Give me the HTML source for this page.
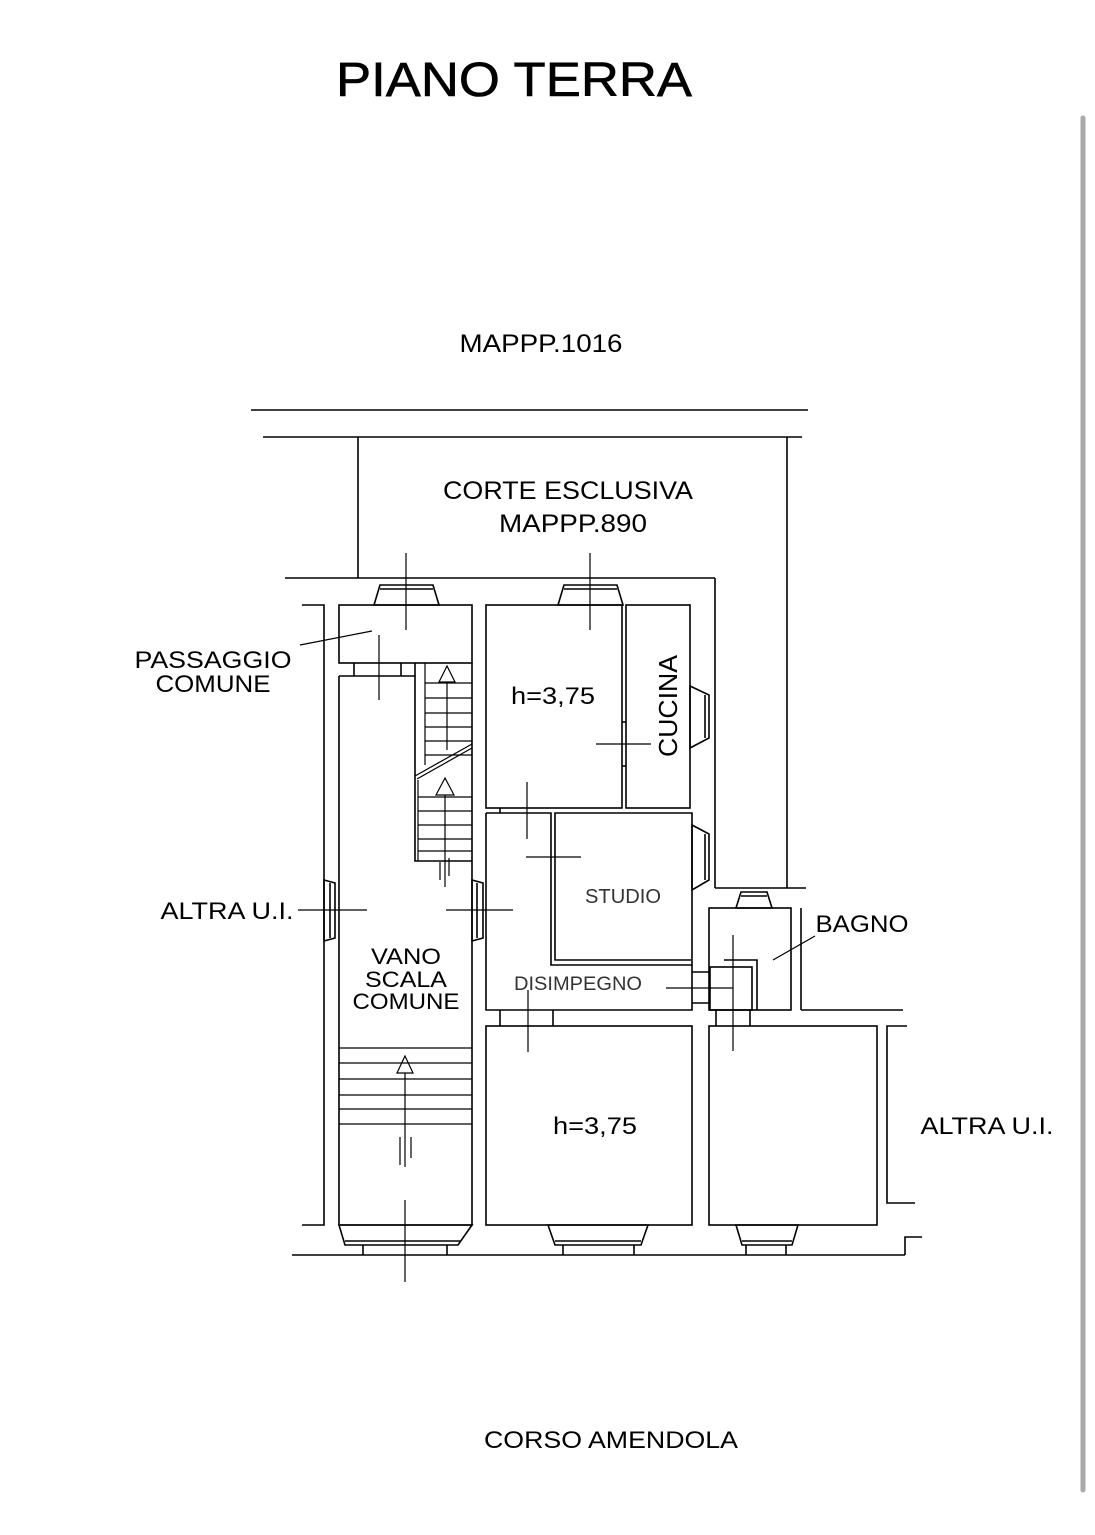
<!DOCTYPE html>
<html><head><meta charset="utf-8"><style>
html,body{margin:0;padding:0;background:#fff;}
svg{display:block;}
text{font-family:"Liberation Sans",sans-serif;fill:#000;}
</style></head><body>
<svg width="1095" height="1535" viewBox="0 0 1095 1535" xmlns="http://www.w3.org/2000/svg">
<rect width="1095" height="1535" fill="#fff"/>
<line x1="1083" y1="118" x2="1083" y2="1490" stroke="#a9a9a9" stroke-width="5" stroke-linecap="round"/>
<text x="514" y="96" font-size="48" text-anchor="middle" textLength="356" lengthAdjust="spacingAndGlyphs" stroke="#000" stroke-width="0.6">PIANO TERRA</text>
<text x="541" y="352" font-size="25" text-anchor="middle" textLength="163" lengthAdjust="spacingAndGlyphs">MAPPP.1016</text>
<text x="568" y="499" font-size="25" text-anchor="middle" textLength="250" lengthAdjust="spacingAndGlyphs">CORTE ESCLUSIVA</text>
<text x="573" y="532" font-size="25" text-anchor="middle" textLength="148" lengthAdjust="spacingAndGlyphs">MAPPP.890</text>
<text x="213" y="668" font-size="24" text-anchor="middle" textLength="157" lengthAdjust="spacingAndGlyphs">PASSAGGIO</text>
<text x="213" y="692" font-size="24" text-anchor="middle" textLength="115" lengthAdjust="spacingAndGlyphs">COMUNE</text>
<text x="227" y="919" font-size="24" text-anchor="middle" textLength="133" lengthAdjust="spacingAndGlyphs">ALTRA U.I.</text>
<text x="406" y="964" font-size="22" text-anchor="middle" textLength="70" lengthAdjust="spacingAndGlyphs">VANO</text>
<text x="406" y="987" font-size="22" text-anchor="middle" textLength="82" lengthAdjust="spacingAndGlyphs">SCALA</text>
<text x="406" y="1009" font-size="22" text-anchor="middle" textLength="107" lengthAdjust="spacingAndGlyphs">COMUNE</text>
<text x="553" y="704" font-size="24" text-anchor="middle" textLength="84" lengthAdjust="spacingAndGlyphs">h=3,75</text>
<text x="595" y="1134" font-size="24" text-anchor="middle" textLength="84" lengthAdjust="spacingAndGlyphs">h=3,75</text>
<text x="623" y="903" font-size="20" text-anchor="middle" style="fill:#333" textLength="76" lengthAdjust="spacingAndGlyphs">STUDIO</text>
<text x="578" y="990" font-size="19" text-anchor="middle" style="fill:#333" textLength="128" lengthAdjust="spacingAndGlyphs">DISIMPEGNO</text>
<text x="862" y="932" font-size="24" text-anchor="middle" textLength="93" lengthAdjust="spacingAndGlyphs">BAGNO</text>
<text x="987" y="1134" font-size="24" text-anchor="middle" textLength="133" lengthAdjust="spacingAndGlyphs">ALTRA U.I.</text>
<text x="611" y="1448" font-size="24" text-anchor="middle" textLength="254" lengthAdjust="spacingAndGlyphs">CORSO AMENDOLA</text>
<text transform="translate(677,706) rotate(-90)" font-size="26" text-anchor="middle" textLength="102" lengthAdjust="spacingAndGlyphs">CUCINA</text>

<g stroke="#000" stroke-width="1.6" fill="none">
<line x1="251" y1="410" x2="808" y2="410"/>
<line x1="263" y1="437" x2="802" y2="437"/>
<line x1="358" y1="437" x2="358" y2="578"/>
<line x1="787" y1="437" x2="787" y2="888"/>
<line x1="285" y1="578" x2="715" y2="578"/>
<line x1="715" y1="578" x2="715" y2="888"/>
<line x1="715" y1="888" x2="806" y2="888"/>
<polyline points="302,605 324,605 324,1225 302,1225"/>
<rect x="339" y="605" width="133" height="58"/>
<line x1="354" y1="663" x2="354" y2="676"/><line x1="401" y1="663" x2="401" y2="676"/>
<polyline points="339,676 415,676 415,861 472,861"/>
<polyline points="339,676 339,1225 472,1225 472,663"/>
<line x1="415" y1="663" x2="415" y2="676"/>
<g stroke-width="1.2">
<line x1="425" y1="683" x2="472" y2="683"/><line x1="425" y1="698" x2="472" y2="698"/>
<line x1="425" y1="713" x2="472" y2="713"/><line x1="425" y1="727" x2="472" y2="727"/>
<line x1="425" y1="741" x2="472" y2="741"/><line x1="425" y1="755" x2="472" y2="755"/>
<line x1="425" y1="663" x2="425" y2="765"/>
<line x1="415" y1="776" x2="472" y2="744"/><line x1="417" y1="779" x2="472" y2="748"/>
<line x1="418" y1="797" x2="472" y2="797"/><line x1="418" y1="811" x2="472" y2="811"/>
<line x1="418" y1="825" x2="472" y2="825"/><line x1="418" y1="839" x2="472" y2="839"/>
<line x1="418" y1="851" x2="472" y2="851"/>
<line x1="418" y1="780" x2="418" y2="861"/>
<line x1="447" y1="682" x2="447" y2="750"/>
<polygon points="439,682 447,666 455,682"/>
<line x1="445" y1="795" x2="445" y2="887"/>
<polygon points="436,795 445,778 454,795"/>
<line x1="440" y1="862" x2="440" y2="880"/><line x1="449" y1="858" x2="449" y2="876"/>
<line x1="339" y1="1048" x2="472" y2="1048"/><line x1="339" y1="1063" x2="472" y2="1063"/>
<line x1="339" y1="1079" x2="472" y2="1079"/><line x1="339" y1="1095" x2="472" y2="1095"/>
<line x1="339" y1="1109" x2="472" y2="1109"/><line x1="339" y1="1124" x2="472" y2="1124"/>
<line x1="405" y1="1073" x2="405" y2="1167"/>
<polygon points="397,1073 405,1056 413,1073"/>
<line x1="400" y1="1137" x2="400" y2="1165"/><line x1="411" y1="1137" x2="411" y2="1158"/>
</g>
<rect x="486" y="605" width="136" height="203"/>
<rect x="626" y="605" width="64" height="203"/>
<line x1="622" y1="722" x2="626" y2="722"/><line x1="622" y1="766" x2="626" y2="766"/>
<polyline points="486,813 551,813 551,965 692,965 692,813 555,813 555,960 691,960"/>
<polyline points="486,813 486,1010 692,1010 692,965"/>
<line x1="500" y1="1010" x2="500" y2="1026"/><line x1="553" y1="1010" x2="553" y2="1026"/>
<line x1="500" y1="808" x2="500" y2="813"/>
<rect x="486" y="1026" width="206" height="199"/>
<rect x="709" y="1026" width="168" height="199"/>
<rect x="709" y="908" width="82" height="102"/>
<polyline points="757,1010 757,960 724,960"/>
<rect x="710" y="967" width="42" height="43"/>
<line x1="692" y1="972" x2="710" y2="972"/><line x1="692" y1="1003" x2="710" y2="1003"/>
<line x1="716" y1="1010" x2="716" y2="1026"/><line x1="750" y1="1010" x2="750" y2="1026"/>
<line x1="801" y1="908" x2="801" y2="1010"/>
<line x1="801" y1="1010" x2="903" y2="1010"/>
<polyline points="907,1026 887,1026 887,1203 915,1203"/>
<line x1="292" y1="1255" x2="905" y2="1255"/>
<polyline points="905,1255 905,1237 922,1237"/>

<polygon points="374,605 380,585 433,585 439,605"/>
<line x1="380" y1="589" x2="433" y2="589"/>
<polygon points="558,605 564,585 617,585 623,605"/>
<line x1="564" y1="589" x2="617" y2="589"/>
<polygon points="736,908 741,892 767,892 772,908"/>
<line x1="741" y1="896" x2="767" y2="896"/>
<polygon points="339,1225 345,1245 458,1245 472,1225"/>
<line x1="345" y1="1241" x2="460" y2="1241"/>
<line x1="363" y1="1245" x2="363" y2="1255"/><line x1="447" y1="1245" x2="447" y2="1255"/>
<polygon points="548,1225 555,1245 641,1245 648,1225"/>
<line x1="555" y1="1241" x2="641" y2="1241"/>
<line x1="563" y1="1245" x2="563" y2="1255"/><line x1="634" y1="1245" x2="634" y2="1255"/>
<polygon points="736,1225 742,1245 792,1245 798,1225"/>
<line x1="742" y1="1241" x2="792" y2="1241"/>
<line x1="746" y1="1245" x2="746" y2="1255"/><line x1="786" y1="1245" x2="786" y2="1255"/>
<polygon points="690,686 709,695 709,738 690,748"/>
<line x1="705" y1="695" x2="705" y2="738"/>
<polygon points="692,825 709,834 709,880 692,890"/>
<line x1="705" y1="834" x2="705" y2="880"/>
<polygon points="324,880 335,883 335,938 324,941"/>
<line x1="330" y1="883" x2="330" y2="938"/>
<polygon points="472,880 483,883 483,938 472,941"/>
<line x1="477" y1="883" x2="477" y2="938"/>

<g stroke-width="1.2">
<line x1="406" y1="553" x2="406" y2="630"/>
<line x1="379" y1="635" x2="379" y2="700"/>
<line x1="590" y1="553" x2="590" y2="630"/>
<line x1="596" y1="744" x2="651" y2="744"/>
<line x1="527" y1="782" x2="527" y2="839"/>
<line x1="526" y1="857" x2="581" y2="857"/>
<line x1="298" y1="910" x2="367" y2="910"/>
<line x1="446" y1="910" x2="513" y2="910"/>
<line x1="528" y1="990" x2="528" y2="1052"/>
<line x1="666" y1="988" x2="733" y2="988"/>
<line x1="733" y1="935" x2="733" y2="1051"/>
<line x1="405" y1="1200" x2="405" y2="1282"/>
<line x1="300" y1="645" x2="372" y2="631"/>
<line x1="773" y1="960" x2="815" y2="936"/>
</g>
</g>
</svg>
</body></html>
